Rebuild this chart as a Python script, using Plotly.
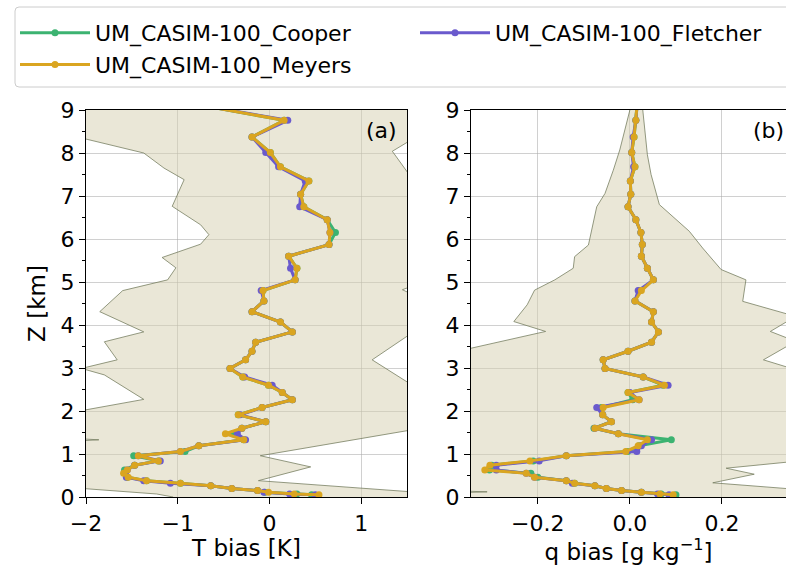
import plotly.graph_objects as go

# Model levels (km) shared by all profiles
z_km = [0.05, 0.07, 0.11, 0.15, 0.20, 0.26, 0.32, 0.38, 0.46, 0.55,
        0.63, 0.74, 0.84, 0.96, 1.06, 1.19, 1.33, 1.47, 1.60, 1.75,
        1.91, 2.08, 2.26, 2.43, 2.60, 2.79, 2.99, 3.19, 3.39, 3.60,
        3.84, 4.07, 4.31, 4.56, 4.80, 5.05, 5.32, 5.60, 5.87, 6.15,
        6.45, 6.75, 7.04, 7.35, 7.68, 8.01, 8.37, 8.76, 9.15]

# Temperature bias profiles (K)
t_cooper = [0.46, 0.30, -0.05, -0.13, -0.41, -0.64, -0.97, -1.34, -1.55, -1.57,
            -1.58, -1.47, -1.21, -1.48, -0.92, -0.77, -0.28, -0.40, -0.30, -0.04,
            -0.34, -0.08, 0.25, 0.14, -0.01, -0.29, -0.43, -0.26, -0.19, -0.15,
            0.25, 0.12, -0.19, -0.06, -0.07, 0.28, 0.30, 0.21, 0.65, 0.72,
            0.63, 0.375, 0.34, 0.43, 0.12, 0.01, -0.19, 0.16, -0.85]
t_fletcher = [0.50, 0.22, -0.06, -0.13, -0.41, -0.64, -1.08, -1.37, -1.56, -1.57,
              -1.55, -1.47, -1.19, -1.43, -0.97, -0.77, -0.26, -0.35, -0.30, -0.04,
              -0.32, -0.08, 0.25, 0.14, 0.03, -0.27, -0.43, -0.26, -0.19, -0.15,
              0.25, 0.12, -0.19, -0.06, -0.09, 0.28, 0.23, 0.21, 0.65, 0.66,
              0.63, 0.33, 0.34, 0.39, 0.10, -0.04, -0.19, 0.20, -0.85]
t_meyers = [0.54, 0.27, -0.01, -0.13, -0.41, -0.64, -0.97, -1.34, -1.54, -1.59,
            -1.55, -1.47, -1.21, -1.43, -0.97, -0.77, -0.28, -0.48, -0.30, -0.04,
            -0.34, -0.08, 0.25, 0.14, -0.01, -0.29, -0.43, -0.26, -0.19, -0.15,
            0.25, 0.12, -0.19, -0.06, -0.07, 0.28, 0.30, 0.21, 0.65, 0.66,
            0.63, 0.375, 0.34, 0.43, 0.12, 0.01, -0.19, 0.16, -0.85]

# Specific humidity bias profiles (g/kg)
q_cooper = [0.100, 0.068, 0.025, -0.018, -0.051, -0.076, -0.120, -0.138, -0.200, -0.215,
            -0.305, -0.300, -0.210, -0.138, -0.005, 0.020, 0.090, -0.025, -0.078, -0.040,
            -0.059, -0.062, 0.006, -0.004, 0.072, 0.029, -0.054, -0.058, -0.004, 0.047,
            0.062, 0.047, 0.051, 0.011, 0.022, 0.051, 0.038, 0.025, 0.027, 0.024,
            0.013, -0.004, 0.002, 0.001, 0.011, 0.004, 0.009, 0.013, 0.016]
q_fletcher = [0.085, 0.060, 0.025, -0.018, -0.051, -0.076, -0.125, -0.138, -0.207, -0.225,
              -0.290, -0.290, -0.197, -0.138, 0.015, 0.025, 0.047, -0.025, -0.076, -0.040,
              -0.059, -0.072, 0.020, 0.000, 0.083, 0.029, -0.054, -0.058, -0.004, 0.047,
              0.062, 0.047, 0.051, 0.011, 0.018, 0.051, 0.038, 0.025, 0.027, 0.024,
              0.013, -0.004, 0.002, 0.001, 0.008, 0.004, 0.007, 0.013, 0.016]
q_meyers = [0.094, 0.065, 0.025, -0.018, -0.051, -0.076, -0.120, -0.138, -0.207, -0.225,
            -0.315, -0.304, -0.217, -0.138, -0.009, 0.018, 0.038, -0.025, -0.076, -0.040,
            -0.059, -0.058, 0.020, -0.004, 0.075, 0.029, -0.054, -0.058, -0.004, 0.047,
            0.062, 0.047, 0.051, 0.011, 0.025, 0.051, 0.038, 0.025, 0.027, 0.024,
            0.013, -0.004, 0.002, 0.001, 0.011, 0.004, 0.009, 0.013, 0.016]

# Spread envelopes: lower bound (bottom to top) and upper bound (top to bottom)
t_lo_z = [0.00, 0.07, 0.20, 1.28, 1.33, 1.38, 2.02, 2.27, 2.84, 2.99, 3.19, 3.61, 3.84,
          4.31, 4.80, 5.05, 5.33, 5.57, 5.88, 6.10, 6.33, 6.76, 7.38, 7.65, 8.00, 8.35, 9.20]
t_lo = [-1.05, -1.23, -2.05, -2.30, -1.86, -2.30, -2.02, -1.37, -1.80, -2.05, -1.66, -1.80, -1.37,
        -1.85, -1.60, -1.11, -1.02, -1.17, -0.75, -0.66, -0.75, -1.06, -0.93, -1.15, -1.37, -2.05, -2.40]
t_hi_z = [9.20, 8.31, 8.04, 7.42, 4.90, 4.82, 4.72, 3.81, 3.19, 2.61, 1.56, 0.96, 0.70,
          0.38, 0.12, 0.00]
t_hi = [1.80, 1.55, 1.34, 1.55, 1.55, 1.45, 1.55, 1.55, 1.12, 1.55, 1.55, -0.10, 0.45,
        -0.12, 1.55, 1.80]

q_lo_z = [0.00, 0.09, 0.12, 0.15, 3.40, 3.46, 3.85, 4.08, 4.47, 4.81, 5.05, 5.32, 5.59,
          5.86, 6.75, 7.06, 7.60, 8.07, 9.00, 9.20]
q_lo = [-0.40, -0.40, -0.31, -0.40, -0.40, -0.345, -0.183, -0.252, -0.223, -0.207, -0.163, -0.123, -0.120,
        -0.090, -0.072, -0.054, -0.036, -0.022, 0.000, 0.005]
q_hi_z = [9.20, 9.00, 7.96, 7.50, 6.80, 6.18, 5.79, 5.29, 5.05, 4.55, 4.20, 3.85, 3.62,
          3.19, 2.96, 0.83, 0.67, 0.53, 0.33, 0.18, 0.00]
q_hi = [0.032, 0.028, 0.038, 0.046, 0.064, 0.129, 0.158, 0.198, 0.252, 0.245, 0.36, 0.305, 0.36,
        0.29, 0.36, 0.36, 0.209, 0.27, 0.18, 0.36, 0.40]

# (label, colour, T profile, q profile, legend column)
series = [
    ("UM_CASIM-100_Cooper", "#3cb371", t_cooper, q_cooper, "legend"),
    ("UM_CASIM-100_Fletcher", "#6a5acd", t_fletcher, q_fletcher, "legend2"),
    ("UM_CASIM-100_Meyers", "#daa520", t_meyers, q_meyers, "legend"),
]

FONT = "DejaVu Sans"
TICK_SIZE = 22
TITLE_SIZE = 23
FILL = "rgba(213,207,175,0.5)"
EDGE = "rgba(115,122,92,0.85)"

# plot area in pixels (for placing legend and frame in paper units)
W, H = 786, 569
ML, MR, MT, MB = 86, 0, 110, 72
PW, PH = W - ML - MR, H - MT - MB


def px_x(px):
    return (px - ML) / PW


def px_y(py):
    return (H - MB - py) / PH


fig = go.Figure()

# shaded spread regions
for lo, lo_z, hi, hi_z, xa, ya in [(t_lo, t_lo_z, t_hi, t_hi_z, "x", "y"),
                                   (q_lo, q_lo_z, q_hi, q_hi_z, "x2", "y2")]:
    fig.add_trace(go.Scatter(
        x=lo + hi, y=lo_z + hi_z, mode="lines", fill="toself",
        fillcolor=FILL, line=dict(color=EDGE, width=0.9),
        hoverinfo="skip", showlegend=False, xaxis=xa, yaxis=ya))

# bias profiles
for name, color, tvals, qvals, leg in series:
    fig.add_trace(go.Scatter(
        x=tvals, y=z_km, mode="lines+markers", name=name, legend=leg,
        line=dict(color=color, width=3), marker=dict(color=color, size=7),
        xaxis="x", yaxis="y"))
    fig.add_trace(go.Scatter(
        x=qvals, y=z_km, mode="lines+markers", name=name, legend=leg,
        line=dict(color=color, width=3), marker=dict(color=color, size=7),
        xaxis="x2", yaxis="y2", showlegend=False))

axis_common = dict(
    showline=True, linecolor="black", linewidth=1.2,
    ticks="outside", ticklen=6, tickwidth=1.2, tickcolor="black",
    showgrid=True, gridcolor="rgba(170,170,170,0.55)", gridwidth=1,
    zeroline=False, tickfont=dict(family=FONT, size=TICK_SIZE, color="black"),
)
yminor = dict(dtick=0.5, ticks="outside", ticklen=3, tickwidth=1, tickcolor="black", showgrid=False)

legend_common = dict(
    orientation="v", yanchor="top", xanchor="left",
    font=dict(family=FONT, size=TICK_SIZE, color="black"),
    bgcolor="rgba(0,0,0,0)", borderwidth=0, itemwidth=70,
    tracegroupgap=2,
)

# legend frame with rounded left corners
r_x, r_y = 4 / PW, 4 / PH
x0, x1 = px_x(15), px_x(800)
y0, y1 = px_y(87), px_y(7)
frame_path = (f"M{x0 + r_x},{y1} L{x1},{y1} L{x1},{y0} L{x0 + r_x},{y0} "
              f"Q{x0},{y0} {x0},{y0 + r_y} L{x0},{y1 - r_y} Q{x0},{y1} {x0 + r_x},{y1} Z")

fig.update_layout(
    width=W, height=H,
    margin=dict(l=ML, r=MR, t=MT, b=MB),
    paper_bgcolor="white", plot_bgcolor="white",
    font=dict(family=FONT, size=TICK_SIZE, color="black"),
    xaxis=dict(domain=[0, px_x(407)], range=[-2, 1.5], tickvals=[-2, -1, 0, 1],
               mirror=True, anchor="y",
               title=dict(text="T bias [K]", font=dict(size=TITLE_SIZE), standoff=4),
               **axis_common),
    yaxis=dict(domain=[0, 1], range=[0, 9], dtick=1, mirror=True, anchor="x",
               minor=yminor,
               title=dict(text="Z [km]", font=dict(size=TITLE_SIZE), standoff=8),
               **axis_common),
    xaxis2=dict(domain=[px_x(471), 1], range=[-0.345, 0.339], tickvals=[-0.2, 0.0, 0.2],
                tickformat=".1f", mirror=True, anchor="y2",
                title=dict(text="q bias [g kg<sup>−1</sup>]", font=dict(size=TITLE_SIZE), standoff=4),
                **axis_common),
    yaxis2=dict(domain=[0, 1], range=[0, 9], dtick=1, mirror=False, anchor="x2",
                minor=yminor, **axis_common),
    legend=dict(x=px_x(15), y=px_y(12), **legend_common),
    legend2=dict(x=px_x(415), y=px_y(12), **legend_common),
    shapes=[dict(type="path", path=frame_path, xref="paper", yref="paper",
                 line=dict(color="#cccccc", width=1), fillcolor="white", layer="above")],
    annotations=[
        dict(text="(a)", xref="x domain", yref="y domain", x=0.975, y=0.985,
             xanchor="right", yanchor="top", showarrow=False,
             font=dict(family=FONT, size=TICK_SIZE, color="black")),
        dict(text="(b)", xref="x2 domain", yref="y2 domain", x=0.89, y=0.985,
             xanchor="left", yanchor="top", showarrow=False,
             font=dict(family=FONT, size=TICK_SIZE, color="black")),
    ],
)

fig.write_html("out.html")
